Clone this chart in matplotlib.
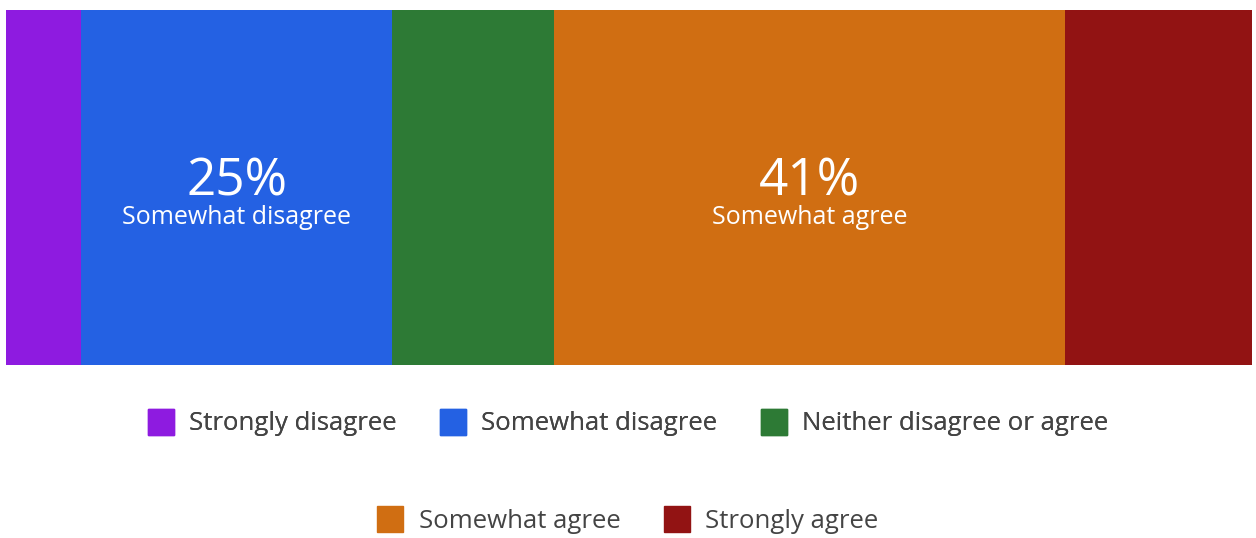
import numpy as np
import matplotlib.pyplot as plt
from matplotlib.lines import Line2D

plt.rcParams['font.family'] = ['Open Sans', 'DejaVu Sans']

# Survey response shares (%)
categories = ['Strongly disagree', 'Somewhat disagree', 'Neither disagree or agree',
              'Somewhat agree', 'Strongly agree']
values = [6, 25, 13, 41, 15]
colors = ['#8E1BE0', '#2461E3', '#2D7A35', '#D06E12', '#921313']

W, H = 1256, 538
fig = plt.figure(figsize=(W / 100, H / 100), dpi=100)
ax = fig.add_axes([6 / W, 1 - 365 / H, 1246 / W, 355 / H])

left = 0
for cat, val, col in zip(categories, values, colors):
    ax.barh(0, val, left=left, height=1, color=col, edgecolor='none')
    if val >= 20:
        cx = left + val / 2
        ax.text(cx, -0.022, f'{val}%', color='white', fontsize=37,
                ha='center', va='baseline')
        ax.text(cx, -0.05, cat, color='white', fontsize=18,
                ha='center', va='top')
    left += val

ax.set_xlim(0, sum(values))
ax.set_ylim(-0.5, 0.5)
ax.axis('off')

handles = [Line2D([], [], marker='s', linestyle='none', markersize=19,
                  markerfacecolor=c, markeredgecolor=c) for c in colors]

kw = dict(loc='center', frameon=False, fontsize=18.5, handletextpad=0.6,
          columnspacing=1.7, handlelength=1.0, labelcolor='#444444')
leg1 = fig.legend(handles[:3], categories[:3], ncol=3,
                  bbox_to_anchor=(0.5, 1 - 424 / H), **kw)
fig.add_artist(leg1)
fig.legend(handles[3:], categories[3:], ncol=2,
           bbox_to_anchor=(0.5, 1 - 521 / H), **kw)

fig.savefig('out.png', dpi=100, facecolor='white')
